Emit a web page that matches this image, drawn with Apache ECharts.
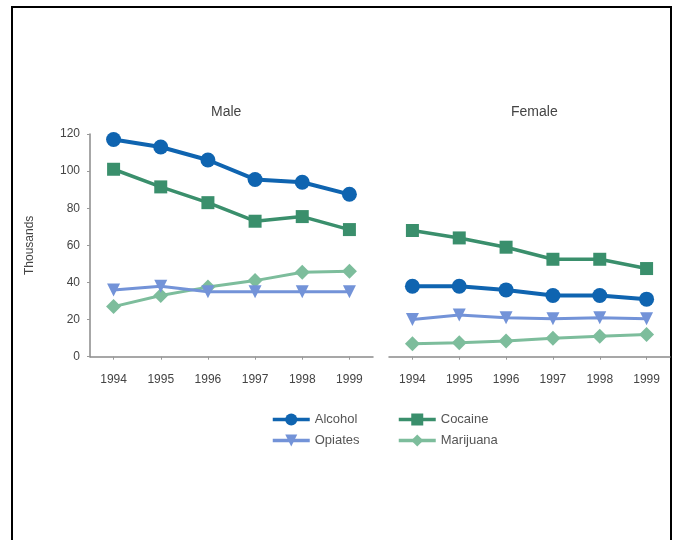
<!DOCTYPE html>
<html>
<head>
<meta charset="utf-8">
<script src="https://cdn.jsdelivr.net/npm/echarts@6/dist/echarts.min.js"></script>
<style>
html,body{margin:0;padding:0;background:#fff;}
#frame{position:absolute;left:11px;top:6px;width:657px;height:540px;border:2px solid #000;border-bottom:none;}
#chart{position:absolute;left:0;top:0;width:683px;height:540px;}
</style>
</head>
<body>
<div id="frame"></div>
<div id="chart"></div>
<script>
var years = ['1994','1995','1996','1997','1998','1999'];
var yTicks = [0,20,40,60,80,100,120];
var maleAlcohol   = [117, 113, 106, 95.5, 94, 87.5];
var maleCocaine   = [101, 91.5, 83, 73, 75.5, 68.5];
var maleOpiates   = [36, 38, 35, 35, 35, 35];
var maleMarijuana = [27, 33, 37.5, 41, 45.5, 46];
var femaleAlcohol   = [38, 38, 36, 33, 33, 31];
var femaleCocaine   = [68, 64, 59, 52.5, 52.5, 47.5];
var femaleOpiates   = [20, 22.5, 21, 20.5, 21, 20.5];
var femaleMarijuana = [7, 7.5, 8.5, 10, 11, 12];

var colors = {Alcohol:'#0f64b0', Cocaine:'#3a8f6c', Opiates:'#7393d8', Marijuana:'#7dbd9c'};
var font = 'Liberation Sans, Arial, sans-serif';

function mk(name, data, idx, symbol, size, width, rot){
  return {
    name:name, type:'line', data:data, xAxisIndex:idx, yAxisIndex:idx,
    symbol:symbol, symbolSize:size, symbolRotate:rot||0, showSymbol:true,
    lineStyle:{color:colors[name], width:width},
    itemStyle:{color:colors[name]},
    emphasis:{disabled:true}, animation:false, z: 3
  };
}

var xAxisBase = function(idx){
  return {
    type:'category', data:years, gridIndex:idx, boundaryGap:true,
    axisLine:{lineStyle:{color:'#8a8a8a', width:1.5}},
    axisTick:{show:true, alignWithLabel:true, length:3, lineStyle:{color:'#999'}},
    axisLabel:{color:'#444', fontSize:12, fontFamily:font, margin:17},
    splitLine:{show:false}
  };
};

var legendBase = {orient:'vertical', top:408, itemWidth:37, itemHeight:15, itemGap:8,
  textStyle:{color:'#555', fontSize:13, fontFamily:font}, selectedMode:false,
  lineStyle:{width:3.5}};

var chart = echarts.init(document.getElementById('chart'));
chart.setOption({
  backgroundColor:'transparent',
  animation:false,
  title:[
    {text:'Male', left:206, top:100, textStyle:{fontSize:14, fontWeight:'normal', color:'#444', fontFamily:font}},
    {text:'Female', left:506, top:100, textStyle:{fontSize:14, fontWeight:'normal', color:'#444', fontFamily:font}}
  ],
  grid:[
    {left:90, top:134, width:283, height:222.7},
    {left:389, top:134, width:281, height:222.7}
  ],
  xAxis:[xAxisBase(0), xAxisBase(1)],
  yAxis:[
    {type:'value', gridIndex:0, min:yTicks[0], max:yTicks[yTicks.length-1], interval:20,
     name:'Thousands', nameLocation:'middle', nameGap:54, nameRotate:90,
     nameTextStyle:{color:'#444', fontSize:12, fontFamily:font},
     axisLine:{show:true, lineStyle:{color:'#8a8a8a', width:1.5}},
     axisTick:{show:true, length:3, lineStyle:{color:'#999'}},
     axisLabel:{color:'#444', fontSize:12, fontFamily:font, margin:10},
     splitLine:{show:false}},
    {type:'value', gridIndex:1, min:yTicks[0], max:yTicks[yTicks.length-1], interval:20, show:false,
     splitLine:{show:false}}
  ],
  legend:[
    Object.assign({}, legendBase, {left:266, data:['Alcohol','Opiates']}),
    Object.assign({}, legendBase, {left:392, data:['Cocaine','Marijuana']})
  ],
  series:[
    mk('Cocaine', maleCocaine, 0, 'rect', 13, 3.5),
    mk('Marijuana', maleMarijuana, 0, 'diamond', 15, 3),
    mk('Opiates', maleOpiates, 0, 'triangle', 13, 3, 180),
    mk('Alcohol', maleAlcohol, 0, 'circle', 15, 4),
    mk('Cocaine', femaleCocaine, 1, 'rect', 13, 3.5),
    mk('Marijuana', femaleMarijuana, 1, 'diamond', 15, 3),
    mk('Opiates', femaleOpiates, 1, 'triangle', 13, 3, 180),
    mk('Alcohol', femaleAlcohol, 1, 'circle', 15, 4)
  ]
});
</script>
</body>
</html>
